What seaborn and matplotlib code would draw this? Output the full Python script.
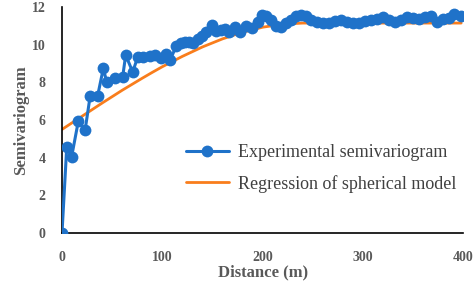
import matplotlib
matplotlib.use('Agg')
import matplotlib.pyplot as plt
import seaborn as sns
import pandas as pd

# experimental semivariogram
lag_dist = [0, 4.7, 9.6, 16.3, 23, 28, 35.6, 41.2, 44.6, 52.9, 60.5, 63.5, 70.5, 75.5,
            81, 88, 93, 99, 104, 108, 114, 119, 123, 127, 131, 136, 140, 144, 150, 154,
            159, 163, 167, 172, 177, 183, 189, 195, 199, 203, 208, 213, 218, 223, 228,
            233, 238, 243, 248, 254, 260, 266, 272, 278, 284, 290, 296, 302, 308, 314,
            320, 326, 332, 338, 344, 350, 356, 362, 368, 374, 380, 386, 391, 398]
gamma_exp = [0, 4.55, 4.05, 5.95, 5.45, 7.25, 7.3, 8.75, 8.0, 8.25, 8.3, 9.45, 8.55, 9.35,
             9.35, 9.4, 9.45, 9.3, 9.5, 9.2, 9.95, 10.1, 10.15, 10.15, 10.1, 10.3, 10.45,
             10.65, 11.05, 10.75, 10.8, 10.85, 10.7, 10.95, 10.65, 11.0, 10.9, 11.2, 11.6,
             11.5, 11.3, 11.0, 10.95, 11.15, 11.3, 11.5, 11.6, 11.55, 11.3, 11.2, 11.15,
             11.15, 11.25, 11.3, 11.2, 11.15, 11.15, 11.25, 11.3, 11.35, 11.45, 11.3, 11.2,
             11.3, 11.45, 11.4, 11.35, 11.45, 11.55, 11.2, 11.35, 11.4, 11.65, 11.55]

# spherical model curve
model_dist = [0, 10, 20, 30, 40, 50, 60, 70, 80, 90, 100, 120, 140, 160, 180, 200,
              220, 240, 260, 300, 350, 398]
gamma_model = [5.5, 5.85, 6.2, 6.55, 6.9, 7.24, 7.58, 7.9, 8.22, 8.53, 8.83, 9.38,
               9.88, 10.31, 10.66, 10.93, 11.09, 11.15, 11.15, 11.15, 11.15, 11.15]

exp_df = pd.DataFrame({'dist': lag_dist, 'gamma': gamma_exp})
mod_df = pd.DataFrame({'dist': model_dist, 'gamma': gamma_model})

sns.set_style('white')
plt.rcParams['font.family'] = ['Liberation Serif', 'DejaVu Serif']

fig = plt.figure(figsize=(4.77, 2.83), dpi=100)
ax = fig.add_axes([0.130, 0.177, 0.841, 0.798])

blue = '#1f72c9'
orange = '#f97d1c'
grey = '#595959'

sns.lineplot(data=exp_df, x='dist', y='gamma', ax=ax, color=blue, linewidth=2.2,
             marker='o', markersize=8.5, markeredgewidth=0,
             label='Experimental semivariogram', zorder=3)
sns.lineplot(data=mod_df, x='dist', y='gamma', ax=ax, color=orange, linewidth=2.0,
             label='Regression of spherical model', zorder=2)

ax.set_xlim(0, 400)
ax.set_ylim(0, 12)
ax.set_xticks([0, 100, 200, 300, 400])
ax.set_yticks([0, 2, 4, 6, 8, 10, 12])
for s in ['top', 'right']:
    ax.spines[s].set_visible(False)
for s in ['left', 'bottom']:
    ax.spines[s].set_color('black')
    ax.spines[s].set_linewidth(1.2)
ax.tick_params(direction='in', length=4, width=1.2, colors='black',
               labelcolor=grey, labelsize=10)
for lbl in ax.get_xticklabels() + ax.get_yticklabels():
    lbl.set_fontweight('bold')
ax.tick_params(axis='x', pad=13)
ax.tick_params(axis='y', pad=12)

ax.set_xlabel('Distance (m)', fontsize=12, fontweight='bold', color=grey, labelpad=0)
ax.set_ylabel('Semivariogram', fontsize=12, fontweight='bold', color=grey, labelpad=2)

leg = ax.legend(loc='upper left', bbox_to_anchor=(0.29, 0.425), frameon=False,
                fontsize=13, handlelength=2.4, handletextpad=0.5, labelspacing=0.75,
                borderaxespad=0)
for t in leg.get_texts():
    t.set_color('#404040')

fig.savefig('out.png', dpi=100)
